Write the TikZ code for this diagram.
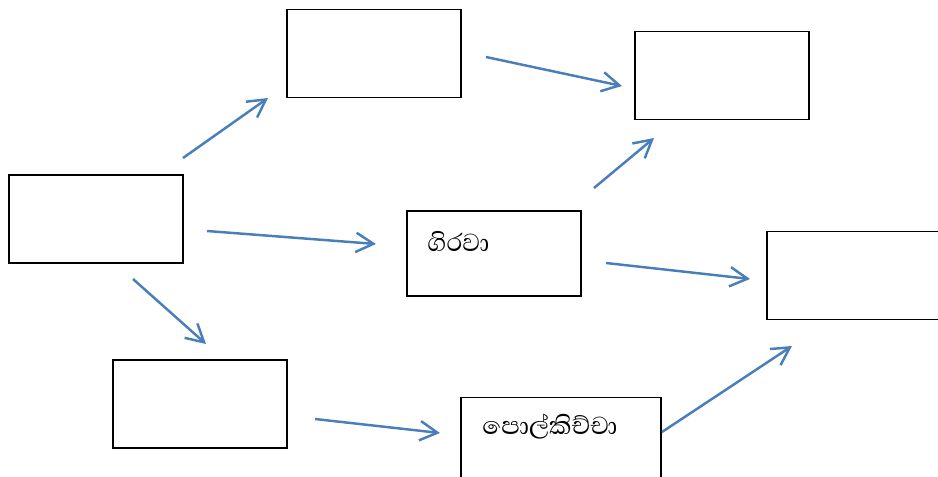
\documentclass[tikz,border=0pt]{standalone}
\usepackage{fontspec}
\usepackage{tikz}
\usetikzlibrary{arrows.meta,positioning}
\newfontfamily\sinhalafont[Script=Sinhala]{Abhaya Libre}
\definecolor{arrowblue}{RGB}{74,126,187}
\tikzstyle{box}=[rectangle,draw=black,line width=1pt,inner sep=0pt,minimum width=3.48cm,minimum height=1.76cm]
\tikzstyle{word}=[anchor=west,inner sep=0pt,font=\sinhalafont\fontsize{18}{20}\selectfont]
\tikzstyle{link}=[draw=arrowblue,line width=1.4pt,-{Straight Barb[length=10pt,width=11pt,line width=1.4pt]}]
\begin{document}
\begin{tikzpicture}[x=0.02cm,y=-0.02cm]
\useasboundingbox (0,0) rectangle (938,477);
\node[box] (A) at (96,219) {};
\node[box] (B) at (374,53.5) {};
\node[box] (C) at (722,75.5) {};
\node[box,minimum height=1.7cm] (D) at (494,253.5) {};
\node[box] (E) at (854,275.5) {};
\node[box] (F) at (200,404) {};
\node[box,minimum width=4cm] (G) at (561,441.5) {};
\node[word] (Dt) at (427,241) {ගිරවා};
\node[word] (Gt) at (482,427) {පොල්කිච්චා};
% arrow ends
\coordinate (ab1) at (183,158);  \coordinate (ab2) at (268,98);
\coordinate (bc1) at (486,57);   \coordinate (bc2) at (622,86);
\coordinate (ad1) at (207,231);  \coordinate (ad2) at (376,244);
\coordinate (af1) at (133,279);  \coordinate (af2) at (206,344);
\coordinate (dc1) at (594,188);  \coordinate (dc2) at (654,138);
\coordinate (de1) at (606,263);  \coordinate (de2) at (750,279);
\coordinate (fg1) at (315,419);  \coordinate (fg2) at (440,433);
\coordinate (ge1) at (662,432);  \coordinate (ge2) at (792,346);
\path
(ab1) edge[link] (ab2)
(bc1) edge[link] (bc2)
(ad1) edge[link] (ad2)
(af1) edge[link] (af2)
(dc1) edge[link] (dc2)
(de1) edge[link] (de2)
(fg1) edge[link] (fg2)
(ge1) edge[link] (ge2);
\end{tikzpicture}
\end{document}
